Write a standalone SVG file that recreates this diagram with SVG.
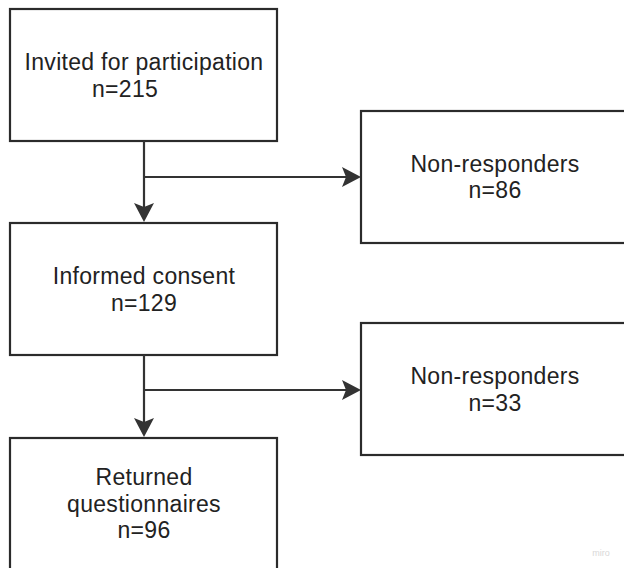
<svg xmlns="http://www.w3.org/2000/svg" width="624" height="568" viewBox="0 0 624 568">
<style>
.box{fill:#fff;stroke:#2b2b2b;stroke-width:2.2}
.t{font-family:"Liberation Sans",Arial,sans-serif;font-size:23px;letter-spacing:0.3px;fill:#222;text-anchor:middle}
.ln{stroke:#333;stroke-width:2.2;fill:none}
.ah{fill:#333}
</style>
<rect width="624" height="568" fill="#fff"/>
<g id="n1"><rect class="box" x="10" y="9" width="267" height="132"/>
<text class="t" x="144" y="70">Invited for participation</text>
<text class="t" x="92" y="97" style="text-anchor:start">n=215</text></g>
<g id="n2"><rect class="box" x="10" y="223" width="267" height="132"/>
<text class="t" x="144" y="284">Informed consent</text>
<text class="t" x="144" y="311">n=129</text></g>
<g id="n3"><rect class="box" x="361" y="111" width="268" height="132"/>
<text class="t" x="495" y="172">Non-responders</text>
<text class="t" x="495" y="198">n=86</text></g>
<g id="n4"><rect class="box" x="361" y="323" width="268" height="132"/>
<text class="t" x="495" y="384">Non-responders</text>
<text class="t" x="495" y="411">n=33</text></g>
<g id="n5"><rect class="box" x="10" y="438" width="267" height="140"/>
<text class="t" x="144" y="485">Returned</text>
<text class="t" x="144" y="512">questionnaires</text>
<text class="t" x="144" y="538">n=96</text></g>
<g id="connectors">
<path class="ln" d="M144,141 V214 M144,177 H353"/>
<path class="ah" d="M144,222 L134,203 L144,207 L154,203 Z"/>
<path class="ah" d="M361,177 L342,167 L346,177 L342,187 Z"/>
<path class="ln" d="M144,355 V429 M144,390 H353"/>
<path class="ah" d="M144,437 L134,418 L144,422 L154,418 Z"/>
<path class="ah" d="M361,390 L342,380 L346,390 L342,400 Z"/>
</g>
<text x="601" y="556" style="font-family:'Liberation Sans',Arial,sans-serif;font-size:9px;fill:#d8d8d8;text-anchor:middle">miro</text>
</svg>
